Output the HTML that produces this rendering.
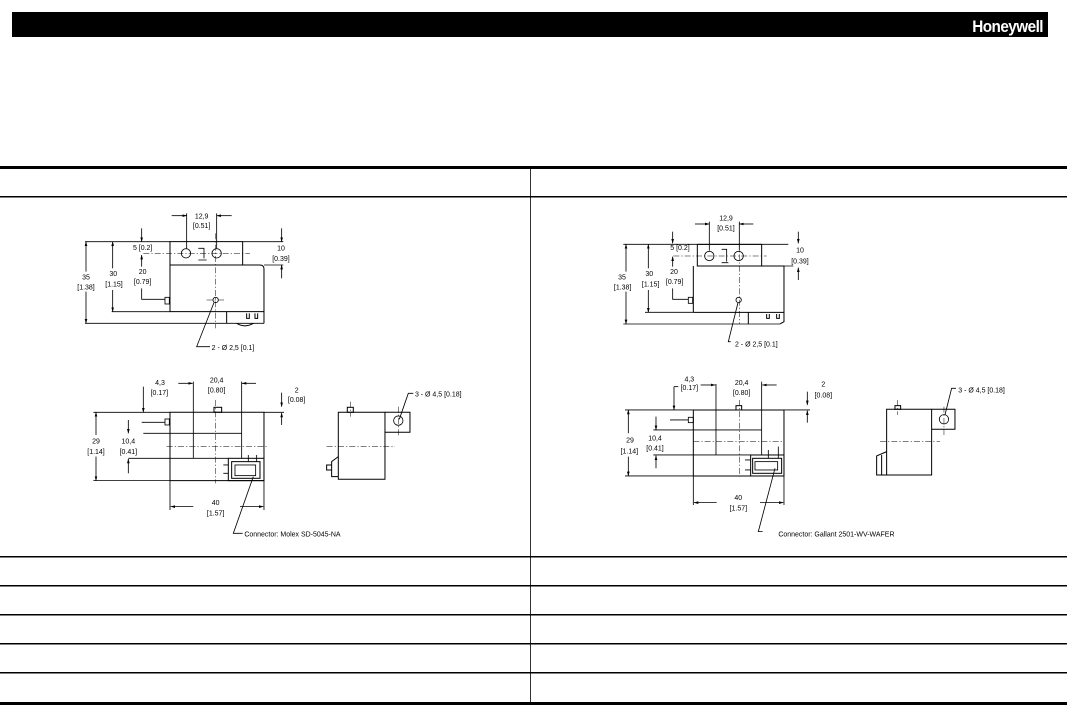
<!DOCTYPE html>
<html><head><meta charset="utf-8"><style>
html,body{margin:0;padding:0;background:#fff;width:1067px;height:705px;overflow:hidden}
svg{position:absolute;left:0;top:0}
text{font-family:"Liberation Sans",sans-serif;fill:#000}
</style></head><body>
<svg width="1067" height="705" viewBox="0 0 1067 705">
<defs>
<marker id="a" markerUnits="userSpaceOnUse" markerWidth="14" markerHeight="10" refX="13" refY="5" orient="auto"><path d="M0,1 L14,5 L0,9 z" fill="#000"/></marker>
</defs>
<rect x="12" y="12" width="1036" height="25" fill="#000"/>
<text x="1043" y="32" text-anchor="end" style="font-weight:bold;font-size:17px;fill:#fff;letter-spacing:-0.6px" transform="translate(1043,0) scale(0.9,1) translate(-1043,0)">Honeywell</text>
<rect x="0" y="166" width="1067" height="3" fill="#000"/>
<rect x="0" y="196" width="1067" height="1.5" fill="#000"/>
<rect x="0" y="556" width="1067" height="1.5" fill="#000"/>
<rect x="0" y="585" width="1067" height="1.5" fill="#000"/>
<rect x="0" y="614" width="1067" height="1.5" fill="#000"/>
<rect x="0" y="643" width="1067" height="1.5" fill="#000"/>
<rect x="0" y="672" width="1067" height="1.5" fill="#000"/>
<rect x="0" y="702" width="1067" height="3" fill="#000"/>
<rect x="530" y="167" width="0.8" height="536" fill="#000"/>

<!-- LEFT DRAWING -->
<g transform="translate(60,200) scale(0.3333)" fill="none" stroke="#000" stroke-width="2.5" font-size="21">
<g stroke-width="3">
<path d="M330 125 H548 V195 H330 Z"/>
<path d="M330 125 V335 H500 V370 M548 195 H600 Q612 195 612 207 V370 M500 335 H612"/>
<path d="M530 370 Q555 385 580 370"/>
<path d="M560 340 V355 H568 V340 M585 340 V355 H593 V340"/>
<path d="M415 145 H432 V175 M415 180 H440" stroke-width="2.5"/>
</g>
<path d="M75 125 H330 M548 125 H670 M75 370 H612 M155 335 H330 M612 195 H670"/>
<circle cx="378" cy="160" r="14"/><circle cx="470" cy="160" r="14"/>
<circle cx="467" cy="300" r="8"/>
<rect x="315" y="292" width="13" height="20"/>
<path d="M467 100 V385 M250 160 H570 M440 300 H495" stroke-dasharray="18 6 4 6" stroke-width="1.5"/>
<path d="M380 40 V145 M470 40 V145"/>
<path d="M335 47 H380" marker-end="url(#a)"/><path d="M515 47 H470" marker-end="url(#a)"/>
<path d="M665 85 V125" marker-end="url(#a)"/><path d="M665 235 V195" marker-end="url(#a)"/>
<path d="M245 85 V125" marker-end="url(#a)"/><path d="M245 200 V165" marker-end="url(#a)"/>
<path d="M245 265 V298 H315"/>
<path d="M158 205 V125" marker-end="url(#a)"/><path d="M158 270 V335" marker-end="url(#a)"/>
<path d="M78 215 V125" marker-end="url(#a)"/><path d="M78 275 V370" marker-end="url(#a)"/>
<path d="M462 308 L410 440 H450"/>
<g stroke="none" fill="#000" text-anchor="middle">
<text x="425" y="55">12,9</text><text x="425" y="84">[0.51]</text>
<text x="663" y="152">10</text><text x="663" y="183">[0.39]</text>
<text x="248" y="150">5 [0.2]</text>
<text x="248" y="222">20</text><text x="248" y="252">[0.79]</text>
<text x="160" y="228">30</text><text x="162" y="260">[1.15]</text>
<text x="78" y="238">35</text><text x="78" y="268">[1.38]</text>
<text x="455" y="450" text-anchor="start">2 - Ø 2,5 [0.1]</text>
</g>
<!-- front -->
<g stroke-width="3">
<path d="M330 637 H612 V842 H330 Z"/>
<rect x="462" y="622" width="23" height="15"/>
<rect x="505" y="775" width="107" height="67"/>
<rect x="515" y="785" width="85" height="50"/>
</g>
<path d="M100 637 H330 M612 637 H672 M100 842 H330 M250 700 H545 M205 775 H505 M400 545 V775 M545 545 V775 M330 842 V930 M612 842 V930"/>
<rect x="315" y="657" width="13" height="18"/><path d="M245 667 H315"/>
<rect x="525" y="795" width="62" height="32"/>
<path d="M490 795 H505 M490 820 H505 M565 765 V785 M590 765 V785"/>
<path d="M320 740 H625 M467 600 V850" stroke-dasharray="18 6 4 6" stroke-width="1.5"/>
<path d="M250 560 V637" marker-end="url(#a)"/>
<path d="M355 550 H398" marker-end="url(#a)"/><path d="M588 550 H546" marker-end="url(#a)"/>
<path d="M665 578 V620" marker-end="url(#a)"/><path d="M665 675 V639" marker-end="url(#a)"/>
<path d="M108 705 V637" marker-end="url(#a)"/><path d="M108 770 V842" marker-end="url(#a)"/>
<path d="M205 660 V700" marker-end="url(#a)"/><path d="M205 820 V777" marker-end="url(#a)"/>
<path d="M400 920 H332" marker-end="url(#a)"/><path d="M540 920 H610" marker-end="url(#a)"/>
<path d="M580 830 L520 1000 H548"/>
<g stroke="none" fill="#000" text-anchor="middle">
<text x="300" y="555">4,3</text><text x="298" y="585">[0.17]</text>
<text x="470" y="548">20,4</text><text x="470" y="578">[0.80]</text>
<text x="710" y="578">2</text><text x="710" y="606">[0.08]</text>
<text x="108" y="730">29</text><text x="108" y="762">[1.14]</text>
<text x="205" y="730">10,4</text><text x="205" y="762">[0.41]</text>
<text x="467" y="915">40</text><text x="467" y="946">[1.57]</text>
<text x="553" y="1010" text-anchor="start">Connector: Molex SD-5045-NA</text>
</g>
<!-- side -->
<g stroke-width="3">
<path d="M835 637 H975 V838 H835 Z"/>
<rect x="862" y="622" width="18" height="15"/>
<path d="M975 637 H1050 V697 H975"/>
<path d="M835 770 L815 785 V830 H835 M800 795 H815 V810 H800 Z"/>
</g>
<circle cx="1015" cy="662" r="14"/>
<path d="M800 740 H1005 M1015 620 V712 M872 605 V650" stroke-dasharray="18 6 4 6" stroke-width="1.5"/>
<path d="M1018 658 L1045 580 H1060"/>
<text x="1065" y="590" stroke="none" fill="#000">3 - Ø 4,5 [0.18]</text>
</g>

<!-- RIGHT DRAWING -->
<g transform="translate(580,200) scale(0.3333)" fill="none" stroke="#000" stroke-width="2.5" font-size="21">
<g stroke-width="3">
<path d="M352 133 H545 V198 H352 Z"/>
<path d="M340 198 V337 M545 198 H612 V365 L600 372 M340 337 H612 M505 337 V372"/>
<path d="M560 342 V355 H568 V342 M590 342 V355 H598 V342"/>
<path d="M425 148 H440 V185 M425 188 H445" stroke-width="2.5"/>
</g>
<path d="M130 133 H625 M130 372 H600 M195 337 H340 M612 198 H640"/>
<circle cx="388" cy="168" r="14"/><circle cx="476" cy="168" r="14"/>
<circle cx="476" cy="300" r="8"/>
<rect x="325" y="292" width="13" height="18"/>
<path d="M478 95 V372 M280 168 H560" stroke-dasharray="18 6 4 6" stroke-width="1.5"/>
<path d="M388 65 V152 M478 65 V152"/>
<path d="M345 72 H388" marker-end="url(#a)"/><path d="M520 72 H478" marker-end="url(#a)"/>
<path d="M655 95 V130" marker-end="url(#a)"/><path d="M655 240 V203" marker-end="url(#a)"/>
<path d="M278 95 V130" marker-end="url(#a)"/><path d="M278 200 V170" marker-end="url(#a)"/>
<path d="M278 265 V298 H325"/>
<path d="M205 205 V133" marker-end="url(#a)"/><path d="M205 270 V337" marker-end="url(#a)"/>
<path d="M138 215 V133" marker-end="url(#a)"/><path d="M138 275 V372" marker-end="url(#a)"/>
<path d="M474 308 L445 425 H452"/>
<g stroke="none" fill="#000" text-anchor="middle">
<text x="438" y="62">12,9</text><text x="438" y="92">[0.51]</text>
<text x="660" y="158">10</text><text x="660" y="190">[0.39]</text>
<text x="300" y="150">5 [0.2]</text>
<text x="282" y="222">20</text><text x="284" y="252">[0.79]</text>
<text x="208" y="228">30</text><text x="212" y="260">[1.15]</text>
<text x="126" y="238">35</text><text x="128" y="268">[1.38]</text>
<text x="465" y="440" text-anchor="start">2 - Ø 2,5 [0.1]</text>
</g>
<g stroke-width="3">
<path d="M340 630 H612 V828 H340 Z"/>
<rect x="468" y="617" width="17" height="13"/>
<rect x="512" y="765" width="100" height="63"/>
<rect x="518" y="775" width="87" height="45"/>
</g>
<path d="M135 630 H340 M612 630 H690 M135 828 H340 M220 690 H545 M220 765 H512 M408 552 V765 M545 545 V765 M340 828 V915 M612 828 V915"/>
<rect x="325" y="652" width="15" height="16"/><path d="M270 660 H325"/>
<rect x="525" y="785" width="68" height="25"/>
<path d="M495 780 H512 M495 810 H512 M565 750 V775 M595 740 V775"/>
<path d="M340 725 H612 M478 600 V830" stroke-dasharray="18 6 4 6" stroke-width="1.5"/>
<path d="M282 560 V630" marker-end="url(#a)"/><path d="M282 560 H295"/>
<path d="M362 555 H406" marker-end="url(#a)"/><path d="M590 555 H547" marker-end="url(#a)"/>
<path d="M682 575 V615" marker-end="url(#a)"/><path d="M682 668 V632" marker-end="url(#a)"/>
<path d="M145 700 V630" marker-end="url(#a)"/><path d="M145 770 V828" marker-end="url(#a)"/>
<path d="M228 650 V690" marker-end="url(#a)"/><path d="M228 805 V767" marker-end="url(#a)"/>
<path d="M410 908 H342" marker-end="url(#a)"/><path d="M540 908 H610" marker-end="url(#a)"/>
<path d="M585 805 L535 995 H548"/>
<g stroke="none" fill="#000" text-anchor="middle">
<text x="328" y="545">4,3</text><text x="328" y="570">[0.17]</text>
<text x="485" y="555">20,4</text><text x="485" y="585">[0.80]</text>
<text x="730" y="560">2</text><text x="730" y="592">[0.08]</text>
<text x="150" y="728">29</text><text x="148" y="760">[1.14]</text>
<text x="225" y="722">10,4</text><text x="225" y="752">[0.41]</text>
<text x="475" y="900">40</text><text x="475" y="932">[1.57]</text>
<text x="595" y="1010" text-anchor="start">Connector: Gallant 2501-WV-WAFER</text>
</g>
<g stroke-width="3">
<path d="M920 628 H1055 V825 H920 Z"/>
<rect x="945" y="617" width="17" height="11"/>
<path d="M1055 628 H1125 V688 H1055"/>
<path d="M920 755 L890 768 V825 H920 M905 765 V825"/>
</g>
<circle cx="1092" cy="658" r="14"/>
<path d="M900 725 H1080 M1092 620 V705 M953 600 V645" stroke-dasharray="18 6 4 6" stroke-width="1.5"/>
<path d="M1095 645 L1115 565 H1128"/>
<text x="1135" y="577" stroke="none" fill="#000">3 - Ø 4,5 [0.18]</text>
</g>
</svg>
</body></html>
